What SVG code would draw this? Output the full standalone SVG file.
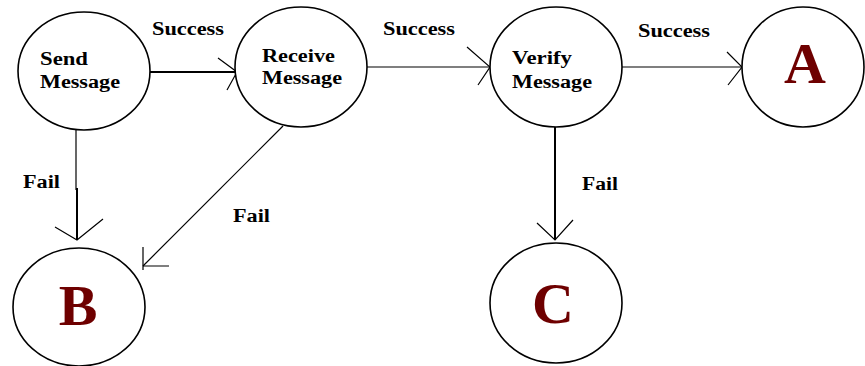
<svg xmlns="http://www.w3.org/2000/svg" width="865" height="366" viewBox="0 0 865 366">
  <style>
    .node { fill: #ffffff; stroke: #000000; stroke-width: 1.6; }
    .label { font-family: "Liberation Serif", "Times New Roman", serif; font-weight: bold; fill: #000000; font-size: 18px; }
    .state { font-family: "Liberation Serif", "Times New Roman", serif; font-weight: bold; fill: #6e0000; font-size: 58px; text-anchor: middle; }
    .edge { fill: none; stroke: #000000; stroke-width: 1.2; }
    .thick { stroke-width: 2; }
  </style>
  <rect width="865" height="366" fill="#ffffff"/>

  <g id="connectors">
    <!-- Send -> Receive -->
    <path class="edge thick" d="M150 72 H237"/>
    <path class="edge" d="M218 58 L237 72 L227 90"/>
    <!-- Receive -> Verify -->
    <path class="edge" d="M367 67 H490"/>
    <path class="edge" d="M467 47 L490 67 L478 85"/>
    <!-- Verify -> A -->
    <path class="edge" d="M622 67 H742"/>
    <path class="edge" d="M727 52 L742 67 L728 85"/>
    <!-- Send -> B -->
    <path class="edge" d="M76 130 V190"/>
    <path class="edge thick" d="M77 188 V240"/>
    <path class="edge" d="M55 227 L77 240 L103 219"/>
    <!-- Receive -> B -->
    <path class="edge" d="M283 126 L143 266"/>
    <path class="edge" d="M143 247 V270 M143 266 H169"/>
    <!-- Verify -> C -->
    <path class="edge thick" d="M555 127 V240"/>
    <path class="edge" d="M537 223 L555 240 L573 220"/>

    <text class="label" x="152" y="35" textLength="72" lengthAdjust="spacingAndGlyphs">Success</text>
    <text class="label" x="383" y="35" textLength="72" lengthAdjust="spacingAndGlyphs">Success</text>
    <text class="label" x="638" y="37" textLength="72" lengthAdjust="spacingAndGlyphs">Success</text>
    <text class="label" x="23" y="188" textLength="37" lengthAdjust="spacingAndGlyphs">Fail</text>
    <text class="label" x="233" y="222" textLength="37" lengthAdjust="spacingAndGlyphs">Fail</text>
    <text class="label" x="582" y="190" textLength="36" lengthAdjust="spacingAndGlyphs">Fail</text>
  </g>

  <g id="send">
    <ellipse class="node" cx="84" cy="71" rx="66" ry="59"/>
    <text class="label" x="40" y="65" textLength="48" lengthAdjust="spacingAndGlyphs">Send</text>
    <text class="label" x="40" y="88" textLength="80" lengthAdjust="spacingAndGlyphs">Message</text>
  </g>
  <g id="receive">
    <ellipse class="node" cx="301" cy="67" rx="66" ry="60"/>
    <text class="label" x="262" y="62" textLength="73" lengthAdjust="spacingAndGlyphs">Receive</text>
    <text class="label" x="262" y="84" textLength="80" lengthAdjust="spacingAndGlyphs">Message</text>
  </g>
  <g id="verify">
    <ellipse class="node" cx="556" cy="67" rx="66" ry="60"/>
    <text class="label" x="512" y="64" textLength="60" lengthAdjust="spacingAndGlyphs">Verify</text>
    <text class="label" x="512" y="88" textLength="80" lengthAdjust="spacingAndGlyphs">Message</text>
  </g>
  <g id="a">
    <ellipse class="node" cx="803" cy="67" rx="61" ry="60"/>
    <text class="state" x="805" y="83">A</text>
  </g>
  <g id="b">
    <ellipse class="node" cx="79" cy="307" rx="66" ry="59"/>
    <text class="state" x="78" y="325">B</text>
  </g>
  <g id="c">
    <ellipse class="node" cx="556" cy="303" rx="66" ry="60"/>
    <text class="state" x="553" y="323">C</text>
  </g>
</svg>
